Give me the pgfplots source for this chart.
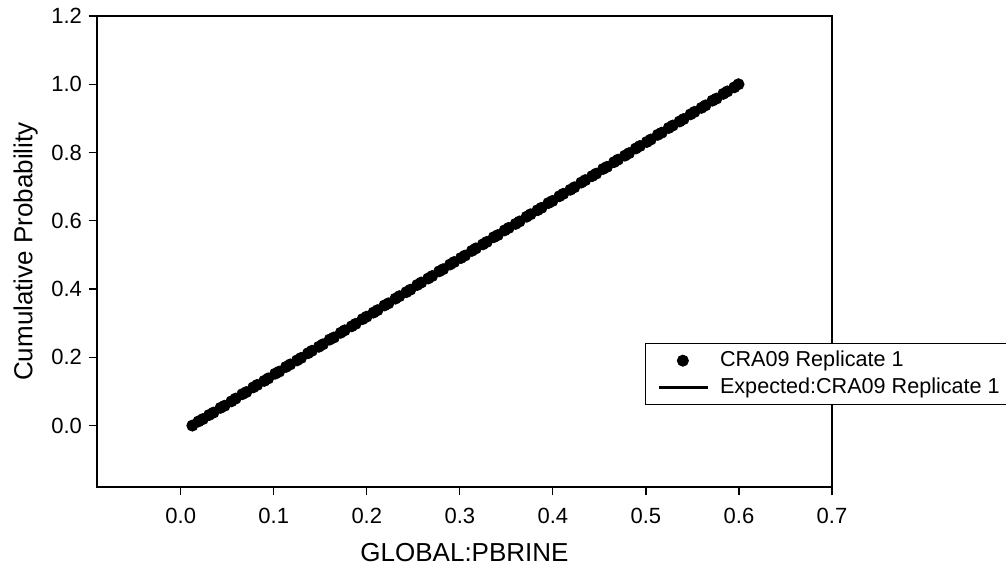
\documentclass[border=0pt]{standalone}
\usepackage{pgfplots}
\pgfplotsset{compat=1.18}
\usepackage{fontspec}
\setmainfont{Liberation Sans}

\pgfplotsset{
  dotleg/.style={legend image code/.code={\path (0cm,0cm) (1.09cm,0cm);
    \fill[black] (0.53cm,0cm) circle (2.8pt);}},
  lineleg/.style={legend image code/.code={\path (0cm,0cm) (1.09cm,0cm);
    \draw[black, line width=1.4pt] (0.11cm,0cm) -- (0.97cm,0cm);}},
}

\pgfplotstableread{
x y
0.0125 0.000
0.0190 0.012
0.0238 0.019
0.0305 0.031
0.0352 0.038
0.0428 0.052
0.0471 0.058
0.0545 0.071
0.0590 0.079
0.0662 0.092
0.0705 0.098
0.0780 0.112
0.0822 0.119
0.0898 0.131
0.0940 0.138
0.1015 0.152
0.1058 0.158
0.1132 0.172
0.1176 0.179
0.1250 0.191
0.1293 0.198
0.1368 0.212
0.1410 0.219
0.1485 0.231
0.1528 0.238
0.1601 0.252
0.1646 0.258
0.1720 0.272
0.1762 0.279
0.1838 0.291
0.1880 0.298
0.1955 0.312
0.1998 0.319
0.2072 0.331
0.2115 0.338
0.2190 0.352
0.2232 0.358
0.2308 0.372
0.2350 0.379
0.2425 0.391
0.2468 0.398
0.2542 0.412
0.2585 0.419
0.2660 0.431
0.2702 0.438
0.2778 0.452
0.2820 0.458
0.2895 0.472
0.2938 0.479
0.3012 0.491
0.3055 0.498
0.3130 0.512
0.3172 0.519
0.3248 0.531
0.3290 0.538
0.3365 0.552
0.3408 0.558
0.3482 0.572
0.3525 0.579
0.3600 0.591
0.3642 0.598
0.3718 0.612
0.3760 0.619
0.3835 0.631
0.3878 0.638
0.3952 0.652
0.3995 0.658
0.4070 0.672
0.4112 0.679
0.4188 0.691
0.4230 0.698
0.4305 0.712
0.4348 0.719
0.4422 0.731
0.4465 0.738
0.4540 0.752
0.4582 0.758
0.4658 0.772
0.4700 0.779
0.4775 0.791
0.4818 0.798
0.4892 0.812
0.4935 0.819
0.5010 0.831
0.5052 0.838
0.5128 0.852
0.5170 0.858
0.5245 0.872
0.5288 0.879
0.5362 0.891
0.5405 0.898
0.5480 0.912
0.5522 0.919
0.5598 0.931
0.5640 0.938
0.5715 0.952
0.5758 0.958
0.5832 0.972
0.5875 0.979
0.5950 0.991
0.5995 1.000
}\sample

\begin{document}
\begin{tikzpicture}
\path[use as bounding box] (-48.5pt,-43.5pt) rectangle (454.5pt,243.5pt);
\begin{axis}[
  at={(0pt,0pt)}, anchor=south west,
  scale only axis, width=367.5pt, height=235.5pt,
  xmin=-0.09, xmax=0.7, ymin=-0.18, ymax=1.2,
  xtick={0,0.1,...,0.7}, ytick={0,0.2,...,1.2},
  tick align=outside, major tick length=4pt,
  tick style={black, line width=0.6pt},
  axis line style={line width=0.7pt},
  xtick pos=bottom, ytick pos=left,
  tick label style={font=\fontsize{11}{13}\selectfont,
    /pgf/number format/fixed, /pgf/number format/fixed zerofill,
    /pgf/number format/precision=1, /pgf/number format/assume math mode=true},
  xticklabel style={yshift=-3pt},
  label style={font=\fontsize{13}{15}\selectfont},
  xlabel={GLOBAL:PBRINE},
  ylabel={Cumulative Probability},
  xlabel style={at={(axis description cs:0.5,-0.140)}, anchor=center},
  ylabel style={at={(axis description cs:-0.097,0.5)}, anchor=center},
  legend style={at={(axis description cs:0.7456,0.174)}, anchor=south west,
    draw=black, fill=white, font=\fontsize{10.8}{13}\selectfont,
    inner xsep=3pt, inner ysep=2pt, row sep=0pt},
  legend cell align=left,
]
\addplot[only marks, mark=*, mark size=2.8pt, black, dotleg] table {\sample};
\addlegendentry{CRA09 Replicate 1}
\addplot[black, line width=1.3pt, lineleg] coordinates {(0.0125,0) (0.6,1.0)};
\addlegendentry{Expected:CRA09 Replicate 1}
\end{axis}
\end{tikzpicture}
\end{document}
